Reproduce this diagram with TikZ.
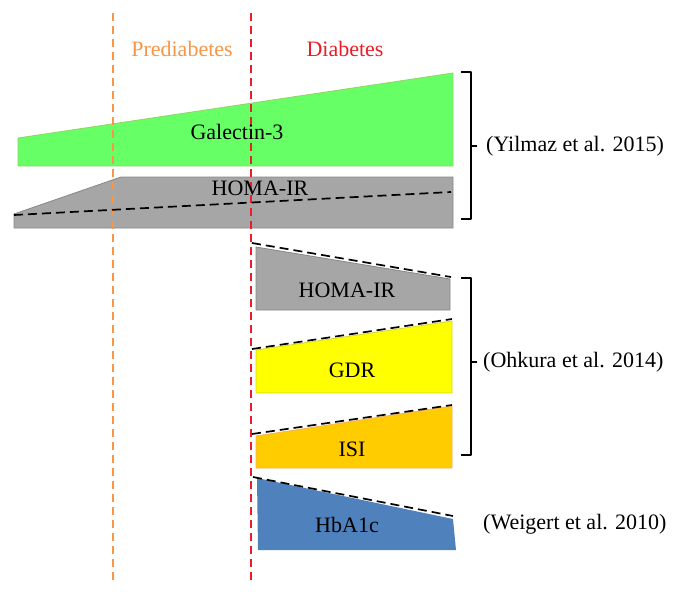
\documentclass[tikz,border=0pt]{standalone}
\usepackage{fontspec}
\setmainfont{Liberation Serif}
\definecolor{cgreen}{RGB}{102,255,102}
\definecolor{cgreenE}{RGB}{150,210,100}
\definecolor{cgray}{RGB}{166,166,166}
\definecolor{cgrayE}{RGB}{135,135,135}
\definecolor{cyellow}{RGB}{255,255,0}
\definecolor{cyellowE}{RGB}{215,215,40}
\definecolor{cgold}{RGB}{255,204,0}
\definecolor{cgoldE}{RGB}{250,175,90}
\definecolor{cblue}{RGB}{79,129,189}
\definecolor{corange}{RGB}{247,150,70}
\definecolor{cred}{RGB}{232,30,40}
\tikzset{
  txt/.style={font=\fontsize{22}{25}\selectfont, inner sep=0pt, text=black},
  vline/.style={line width=1.3pt, dash pattern=on 8pt off 5pt},
  trend/.style={line width=1.7pt, dash pattern=on 9pt off 5pt, black},
  brace/.style={line width=1.4pt, black, line join=round},
}
\begin{document}
\begin{tikzpicture}[x=1pt,y=-1pt]
\useasboundingbox (0,0) rectangle (674,598);
% shapes
\fill[cgreen, draw=cgreenE, line width=0.8pt] (18,138) -- (453,73) -- (453,166) -- (18,166) -- cycle;
\fill[cgray, draw=cgrayE, line width=0.8pt] (14,214) -- (121,177) -- (453,177) -- (453,228) -- (14,228) -- cycle;
\fill[cgray, draw=cgrayE, line width=0.8pt] (256,247) -- (450,279) -- (450,310) -- (256,310) -- cycle;
\fill[cyellow, draw=cyellowE, line width=0.8pt] (256,350) -- (452,321) -- (452,393) -- (256,393) -- cycle;
\fill[cgold, draw=cgoldE, line width=0.8pt] (256,436) -- (452,406) -- (452,468) -- (256,468) -- cycle;
\fill[cblue] (257,478) -- (453,519) -- (456,550) -- (258,550) -- cycle;
% vertical stage lines
\draw[vline, corange] (113,13) -- (113,580);
\draw[vline, cred] (251,13) -- (251,583);
% trend lines
\draw[trend] (14,215) -- (451,192);
\draw[trend] (252,243) -- (451,277);
\draw[trend] (252,349) -- (452,319);
\draw[trend] (252,434) -- (452,405);
\draw[trend] (253,477) -- (453,516);
% labels
\node[txt, text=corange] (pre) at (182,49) {Prediabetes};
\node[txt, text=cred] (dia) at (345,49) {Diabetes};
\node[txt] (gal) at (237,132) {Galectin-3};
\node[txt] (homa1) at (260,188) {HOMA-IR};
\node[txt] (homa2) at (347,290) {HOMA-IR};
\node[txt] (gdr) at (352,370) {GDR};
\node[txt] (isi) at (352,449) {ISI};
\node[txt] (hba) at (347,525) {HbA1c};
% braces
\draw[brace] (461,72) -- (471,72) -- (471,219) -- (461,219);
\draw[brace] (471,146) -- (477,146);
\node[txt, anchor=west] (yil) at (486,146) {(Yilmaz et al. 2015)};
\draw[brace] (461,278) -- (471,278) -- (471,455) -- (461,455);
\draw[brace] (471,362) -- (477,362);
\node[txt, anchor=west] (ohk) at (483,362) {(Ohkura et al. 2014)};
\node[txt, anchor=west] (wei) at (483,524) {(Weigert et al. 2010)};
\end{tikzpicture}
\end{document}
